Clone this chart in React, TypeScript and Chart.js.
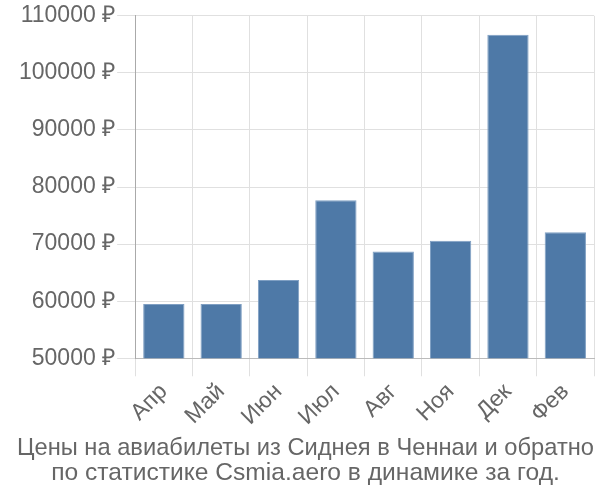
import React, { useEffect, useRef } from "react";
import { Chart, registerables } from "chart.js";

Chart.register(...registerables);

const categories = ["Апр", "Май", "Июн", "Июл", "Авг", "Ноя", "Дек", "Фев"];
const prices = [59500, 59500, 63700, 77700, 68700, 70600, 106700, 72100];
const titleLines = [
  "Цены на авиабилеты из Сиднея в Ченнаи и обратно",
  "по статистике Csmia.aero в динамике за год.",
];

const FONT = "Liberation Sans, Arial, sans-serif";

export default function App() {
  const ref = useRef<HTMLCanvasElement | null>(null);
  useEffect(() => {
    if (!ref.current) return;
    const chart = new Chart(ref.current, {
      type: "bar",
      data: {
        labels: categories,
        datasets: [
          {
            data: prices,
            backgroundColor: "#4e79a7",
            borderColor: "#7f9fc3",
            borderWidth: 1,
          },
        ],
      },
      options: {
        animation: false,
        responsive: false,
        layout: { padding: { left: 17, right: 6, top: 3, bottom: 14 } },
        plugins: {
          legend: { display: false },
          tooltip: { enabled: false },
          title: {
            display: true,
            text: titleLines,
            position: "bottom",
            color: "#666",
            font: { family: FONT, size: 24.6, weight: "normal", lineHeight: 1.02 },
            padding: { top: 3, bottom: 0 },
          },
        },
        scales: {
          x: {
            grid: { color: "#e0e0e0", lineWidth: 1, offset: true, tickLength: 18 },
            border: { color: "#bbb" },
            ticks: {
              color: "#666",
              padding: 2,
              font: { family: FONT, size: 23 },
              maxRotation: 45,
              minRotation: 45,
            },
          },
          y: {
            min: 50000,
            max: 110000,
            grid: { color: "#e0e0e0", lineWidth: 1, tickLength: 18 },
            border: { color: "#aaa" },
            ticks: {
              stepSize: 10000,
              color: "#666",
              padding: 2,
              font: { family: FONT, size: 23 },
              callback: (v: any) => v + " ₽",
            },
          },
        },
      },
    });
    return () => chart.destroy();
  }, []);
  return (
    <div style={{ position: "absolute", left: 0, top: 0, width: 600, height: 500 }}>
      <canvas ref={ref} width={600} height={500} />
    </div>
  );
}
